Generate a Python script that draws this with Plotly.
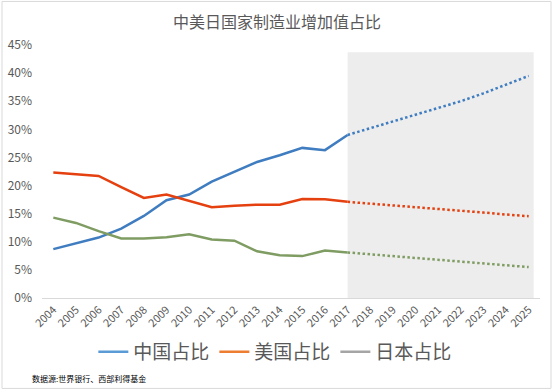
import plotly.graph_objects as go

years = list(range(2004, 2026))
hist_years = list(range(2004, 2018))
proj_years = list(range(2017, 2026))

china_hist = [8.7, 9.7, 10.75, 12.35, 14.6, 17.4, 18.4, 20.7, 22.5, 24.2, 25.4, 26.7, 26.3, 29.0]
china_proj = [29.0, 30.2, 31.3, 32.5, 33.7, 35.0, 36.4, 37.9, 39.5]
usa_hist = [22.3, 22.0, 21.7, 19.7, 17.8, 18.4, 17.3, 16.15, 16.4, 16.6, 16.6, 17.6, 17.55, 17.1]
usa_proj = [17.1, 16.8, 16.5, 16.15, 15.85, 15.5, 15.2, 14.85, 14.55]
japan_hist = [14.3, 13.35, 11.9, 10.6, 10.6, 10.8, 11.35, 10.4, 10.2, 8.3, 7.6, 7.45, 8.45, 8.1]
japan_proj = [8.1, 7.78, 7.45, 7.13, 6.8, 6.48, 6.15, 5.83, 5.5]

names = ["中国占比", "美国占比", "日本占比"]
legend_colors = ["#5b9bd5", "#ed7d31", "#a5a5a5"]
line_colors = ["#3f7dc0", "#e5400f", "#7f9c63"]

y_ticks = [0, 5, 10, 15, 20, 25, 30, 35, 40, 45]
y_ticktext = [f"{v}%" for v in y_ticks]

font_family = "Noto Sans CJK SC, Microsoft YaHei, sans-serif"

fig = go.Figure()

series = [(china_hist, china_proj), (usa_hist, usa_proj), (japan_hist, japan_proj)]
for (h, p), c in zip(series, line_colors):
    fig.add_trace(go.Scatter(x=hist_years, y=[v / 100 for v in h], mode="lines",
                             line=dict(color=c, width=2.5), showlegend=False, hoverinfo="skip"))
    fig.add_trace(go.Scatter(x=proj_years, y=[v / 100 for v in p], mode="lines",
                             line=dict(color=c, width=2.5, dash="2.5px,2.5px"), showlegend=False,
                             hoverinfo="skip"))

for n, c in zip(names, legend_colors):
    fig.add_trace(go.Scatter(x=[None], y=[None], mode="lines", name=n,
                             line=dict(color=c, width=2.5)))

# shaded forecast region
fig.add_shape(type="rect", xref="x", yref="y", x0=2017, x1=2025.22, y0=0, y1=0.437,
              fillcolor="#ededed", line=dict(width=0), layer="below")

# chart border
fig.add_shape(type="rect", xref="paper", yref="paper",
              x0=-40 / 498, x1=509 / 498, y0=-(388 - 297.7) / 252.7, y1=(297.7 - 1.5) / 252.7,
              line=dict(color="#d9d9d9", width=1), fillcolor="rgba(0,0,0,0)")

fig.update_layout(
    width=554, height=391,
    margin=dict(l=42, r=14, t=45, b=93, autoexpand=False),
    paper_bgcolor="white", plot_bgcolor="white",
    font=dict(family=font_family, color="#595959"),
    title=dict(text="中美日国家制造业增加值占比", x=0.5, xref="container", xanchor="center",
               y=0.942, yanchor="middle", font=dict(size=16, color="#595959")),
    xaxis=dict(range=[2003.5, 2025.5], tickmode="array", tickvals=years,
               ticktext=[str(y) for y in years], tickangle=-45, automargin=False,
               tickfont=dict(size=11, color="#595959"), showgrid=False,
               showline=True, linecolor="#d9d9d9", linewidth=1, zeroline=False, ticks=""),
    yaxis=dict(range=[0, 0.45], tickmode="array", tickvals=[v / 100 for v in y_ticks],
               ticktext=y_ticktext, tickfont=dict(size=12, color="#595959"), automargin=False,
               showgrid=False, zeroline=False, showline=False, ticks="", ticklabelstandoff=9),
    legend=dict(orientation="h", xref="container", x=0.497, xanchor="center",
                yref="container", y=0.1, yanchor="middle",
                font=dict(size=19, color="#595959"), itemwidth=30,
                bgcolor="rgba(0,0,0,0)"),
    annotations=[dict(text="数据源:世界银行、西部利得基金", xref="paper", yref="paper",
                      x=-12 / 498, y=-(378 - 297.7) / 252.7, xanchor="left", yanchor="middle",
                      showarrow=False, font=dict(size=8, color="#000000"))],
)

fig.write_html("out.html", config={"displayModeBar": False},
               post_script="document.body.style.margin='0px';")
